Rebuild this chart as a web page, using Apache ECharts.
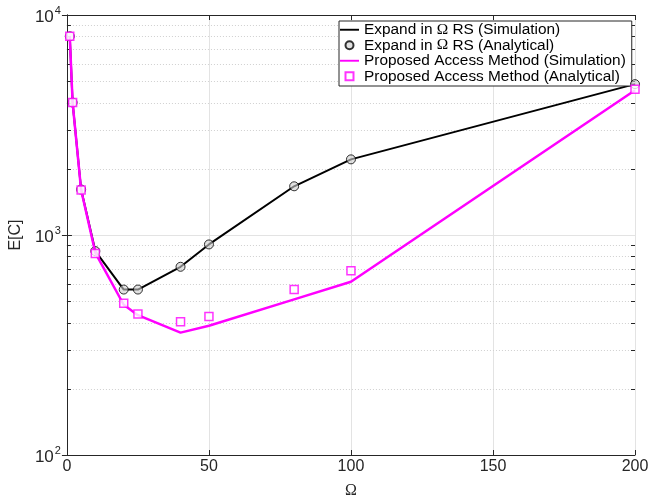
<!DOCTYPE html>
<html>
<head>
<meta charset="utf-8">
<script src="https://cdn.jsdelivr.net/npm/echarts@6/dist/echarts.min.js"></script>
<style>
html,body{margin:0;padding:0;background:#fff;}
#c{width:667px;height:504px;}
</style>
</head>
<body>
<div id="c"></div>
<script>
// ---- data ----
const omega = [1, 2, 5, 10, 20, 25, 40, 50, 80, 100, 200];
const expandSim = [8000, 4000, 1610, 845, 565, 565, 717, 906, 1665, 2207, 4850];
const expandAna = [8000, 4000, 1610, 845, 565, 565, 717, 906, 1665, 2207, 4850];
const proposedSim = [8000, 4000, 1600, 830, 482, 432, 360, 387, 510, 613, 4550];
const proposedAna = [8000, 4000, 1600, 824, 490, 438, 403, 426, 565, 688, 4600];
const xTicks = [0, 50, 100, 150, 200];
const minorY = [200, 300, 400, 500, 600, 700, 800, 900, 2000, 3000, 4000, 5000, 6000, 7000, 8000, 9000];

const names = [
  'Expand in Ω RS (Simulation)',
  'Expand in Ω RS (Analytical)',
  'Proposed Access Method (Simulation)',
  'Proposed Access Method (Analytical)'
];
const pair = (xs, ys) => xs.map((x, i) => [x, ys[i]]);

const AX = '#262626';
const FONT = '"Liberation Sans", Arial, Helvetica, sans-serif';
const SERIF = '"Liberation Serif", "DejaVu Serif", serif';
const LINE_ICON = 'path://M0,0L40,0L40,4L0,4Z';
const SQ_ICON = 'path://M0,0L10,0L10,10L0,10Z';

const chart = echarts.init(document.getElementById('c'));
chart.setOption({
  animation: false,
  backgroundColor: '#fff',
  textStyle: {fontFamily: FONT},
  grid: {left: 63, right: 32, top: 15, bottom: 37, containLabel: false},
  legend: {
    data: [
      {name: names[0], icon: LINE_ICON},
      {name: names[1], icon: 'circle'},
      {name: names[2], icon: LINE_ICON},
      {name: names[3], icon: SQ_ICON}
    ],
    orient: 'vertical',
    left: 339, top: 21,
    backgroundColor: '#fff',
    borderColor: AX, borderWidth: 1, borderRadius: 0,
    padding: [1, 6, 2, 1],
    itemWidth: 19, itemHeight: 8, itemGap: 0,
    symbolKeepAspect: true,
    textStyle: {
      fontFamily: FONT, fontSize: 15.4, color: '#000', lineHeight: 15.5,
      rich: {o: {fontFamily: SERIF, fontSize: 15.4, color: '#000', lineHeight: 15.5}}
    },
    formatter: n => n.replace('Ω', '{o|Ω}'),
    selectedMode: false
  },
  xAxis: [{
    type: 'value', min: 0, max: 200, interval: 50,
    name: 'Ω', nameLocation: 'middle', nameGap: 28,
    nameTextStyle: {fontFamily: SERIF, fontSize: 16, color: AX},
    axisLine: {show: true, lineStyle: {color: AX, width: 1}},
    axisTick: {show: true, inside: true, length: 5, lineStyle: {color: AX}},
    axisLabel: {fontSize: 16, color: AX, margin: 4, fontFamily: FONT,
      formatter: v => (xTicks.indexOf(v) >= 0 ? String(v) : '')},
    splitLine: {show: true, lineStyle: {color: '#e3e3e3', width: 1}}
  }, {
    type: 'value', min: 0, max: 200, interval: 50, position: 'top',
    axisLine: {show: true, lineStyle: {color: AX, width: 1}},
    axisTick: {show: true, inside: true, length: 5, lineStyle: {color: AX}},
    axisLabel: {show: false}, splitLine: {show: false}
  }],
  yAxis: [{
    type: 'log', logBase: 10, min: 100, max: 10000,
    name: 'E[C]', nameLocation: 'middle', nameGap: 33,
    nameTextStyle: {fontSize: 16, color: AX, fontFamily: FONT},
    axisLine: {show: true, lineStyle: {color: AX, width: 1}},
    axisTick: {show: true, inside: true, length: 5, lineStyle: {color: AX}},
    axisLabel: {
      color: AX, margin: 6,
      formatter: v => '{b|10}{s|' + Math.round(Math.log10(v)) + '}',
      rich: {
        b: {fontSize: 17, color: AX, fontFamily: FONT, padding: [4, 0, 0, 0]},
        s: {fontSize: 11, color: AX, fontFamily: FONT, padding: [0, 0, 8, 1]}
      }
    },
    splitLine: {show: true, lineStyle: {color: '#e3e3e3', width: 1}}
  }, {
    type: 'log', logBase: 10, min: 100, max: 10000, position: 'right',
    axisLine: {show: true, lineStyle: {color: AX, width: 1}},
    axisTick: {show: true, inside: true, length: 5, lineStyle: {color: AX}},
    axisLabel: {show: false}, splitLine: {show: false}
  }],
  series: [
    {
      type: 'custom', name: 'minor', silent: true, clip: false, z: 1,
      data: minorY.map(v => [0, v]),
      renderItem: (params, api) => {
        const p = api.coord([0, api.value(1)]);
        const cs = params.coordSys;
        const y = Math.round(p[1]) + 0.5;
        return {type: 'group', children: [
          {type: 'line', shape: {x1: cs.x, y1: y, x2: cs.x + cs.width, y2: y},
            style: {stroke: '#d0d0d0', lineWidth: 1, lineDash: [1, 2]}},
          {type: 'line', shape: {x1: cs.x, y1: y, x2: cs.x + 4, y2: y},
            style: {stroke: AX, lineWidth: 1}},
          {type: 'line', shape: {x1: cs.x + cs.width - 4, y1: y, x2: cs.x + cs.width, y2: y},
            style: {stroke: AX, lineWidth: 1}}
        ]};
      }
    },
    {
      type: 'line', name: names[0], data: pair(omega, expandSim),
      symbol: 'none', lineStyle: {color: '#000', width: 2}, itemStyle: {color: '#000'}, z: 3
    },
    {
      type: 'scatter', name: names[1], data: pair(omega, expandAna),
      symbol: 'circle', symbolSize: 9,
      itemStyle: {color: 'rgba(205,205,205,0.75)', borderColor: '#000', borderWidth: 1}, z: 4
    },
    {
      type: 'line', name: names[2], data: pair(omega, proposedSim),
      symbol: 'none', lineStyle: {color: '#ff00ff', width: 2.5}, itemStyle: {color: '#ff00ff'}, z: 5
    },
    {
      type: 'scatter', name: names[3], data: pair(omega, proposedAna),
      symbol: 'rect', symbolSize: 8,
      itemStyle: {color: '#fff', borderColor: '#ff00ff', borderWidth: 1.5}, z: 6
    }
  ]
});
</script>
</body>
</html>
